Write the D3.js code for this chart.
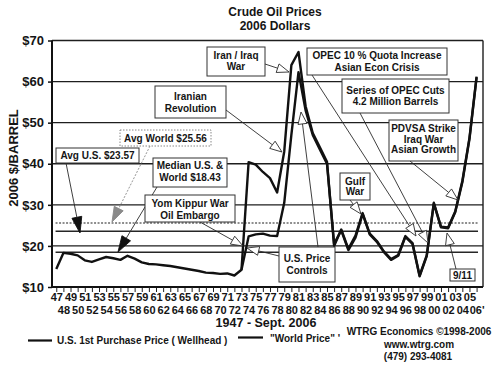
<!DOCTYPE html>
<html><head><meta charset="utf-8">
<script src="https://cdn.jsdelivr.net/npm/d3@7"></script>
<style>
body{margin:0;background:#fff}
svg{display:block}
text{font-family:"Liberation Sans",Arial,sans-serif;font-weight:bold;fill:#151515}
</style>
</head><body>
<svg id="c" width="501" height="366"></svg>
<script>
// ---------------- data ----------------
const usYears = d3.range(1947, 2007);
const usPrice = [14.4,18.3,18.1,17.7,16.5,16.1,16.7,17.3,17.0,16.6,
                 17.6,16.9,16.0,15.6,15.5,15.3,15.1,14.8,14.5,14.2,
                 13.9,13.5,13.4,13.2,13.3,12.8,14.2,22.3,22.8,23.0,
                 22.5,22.4,30.5,47.0,62.3,53.0,47.0,43.5,40.0,20.5,
                 23.8,19.0,22.0,27.8,22.8,21.0,18.5,16.6,17.6,22.2,
                 20.5,12.6,17.5,30.3,24.5,24.3,28.2,35.5,46.0,61.0];
const worldYears = d3.range(1973, 2007);
const worldPrice = [14.2,40.4,39.8,38.0,36.5,33.0,43.0,64.0,67.2,54.0,
                    47.5,44.0,40.5,20.0,24.0,19.3,22.5,28.0,23.0,21.2,
                    18.6,16.8,17.8,22.4,20.7,12.8,17.7,30.5,24.7,24.5,
                    28.4,35.8,46.3,61.2];
const avgWorld = 25.56, avgUS = 23.57, medianPrice = 18.43;
const yTickValues = [10,20,30,40,50,60,70];
const topYears = d3.range(1947, 2006, 2);
const topLabels = ["47","49","51","53","55","57","59","61","63","65","67","69","71","73","75","77","79","81","83","85","87","89","91","93","95","97","99","01","03","05"];
const bottomYears = d3.range(1948, 2007, 2);
const bottomLabels = ["48","50","52","54","56","58","60","62","64","66","68","70","72","74","76","78","80","82","84","86","88","90","92","94","96","98","00","02","04","06'"];

// ---------------- layout ----------------
const svg = d3.select("#c");
const L = 52, R = 483, T = 40.5, B = 287;
const x = d3.scaleLinear().domain([1946.4, 2006.9]).range([L, R]);
const y = d3.scaleLinear().domain([10, 70]).range([B, T]);

// titles
svg.append("text").attr("x",275).attr("y",11.5).attr("text-anchor","middle").attr("dominant-baseline","central")
  .style("font-size","12px").text("Crude Oil Prices");
svg.append("text").attr("x",275).attr("y",26).attr("text-anchor","middle").attr("dominant-baseline","central")
  .style("font-size","12px").text("2006 Dollars");
svg.append("text").attr("transform","translate(13,158) rotate(-90)").attr("text-anchor","middle")
  .attr("dominant-baseline","central").style("font-size","13px").text("2006 $/BARREL");

// gridlines
svg.append("g").selectAll("line").data(yTickValues.filter(v=>v>10)).join("line")
  .attr("x1",L).attr("x2",R).attr("y1",d=>y(d)).attr("y2",d=>y(d))
  .attr("stroke","#1e1e1e").attr("stroke-width",1.4);
// right frame
svg.append("line").attr("x1",R).attr("x2",R).attr("y1",y(70)).attr("y2",y(10))
  .attr("stroke","#1e1e1e").attr("stroke-width",1.4);

// reference lines
const refL = x(1946.9), refR = x(2006.2);
svg.append("line").attr("x1",refL).attr("x2",refR).attr("y1",y(avgWorld)).attr("y2",y(avgWorld))
  .attr("stroke","#6a6a6a").attr("stroke-width",1.5).attr("stroke-dasharray","2,1.5");
svg.append("line").attr("x1",refL).attr("x2",refR).attr("y1",y(avgUS)).attr("y2",y(avgUS))
  .attr("stroke","#262626").attr("stroke-width",1.5);
svg.append("line").attr("x1",refL).attr("x2",refR).attr("y1",y(medianPrice)).attr("y2",y(medianPrice))
  .attr("stroke","#262626").attr("stroke-width",1.5);

// data lines
const line = d3.line().x(d=>x(d[0])).y(d=>y(d[1])).curve(d3.curveLinear);
svg.append("path").attr("d", line(worldYears.map((yr,i)=>[yr, worldPrice[i]])))
  .attr("fill","none").attr("stroke","#111").attr("stroke-width",2.4).attr("stroke-linejoin","round");
svg.append("path").attr("d", line(usYears.map((yr,i)=>[yr, usPrice[i]])))
  .attr("fill","none").attr("stroke","#111").attr("stroke-width",2.4).attr("stroke-linejoin","round");

// axes
const yAxis = svg.append("g").attr("transform",`translate(${L},0)`)
  .call(d3.axisLeft(y).tickValues(yTickValues).tickFormat(d=>"$"+d).tickSize(4).tickPadding(4));
yAxis.select(".domain").attr("stroke","#111").attr("stroke-width",2).attr("d",`M0,${B}V${T}`);
yAxis.selectAll(".tick line").attr("stroke","#111").attr("stroke-width",1.5);
yAxis.selectAll("text").style("font-size","13px").style("font-family",'"Liberation Sans",Arial,sans-serif')
  .style("font-weight","bold").attr("fill","#151515");

const xTop = svg.append("g").attr("transform",`translate(0,${B})`)
  .call(d3.axisBottom(x).tickValues(topYears).tickFormat((d,i)=>topLabels[i]).tickSize(5).tickPadding(1));
const xBot = svg.append("g").attr("transform",`translate(0,${B})`)
  .call(d3.axisBottom(x).tickValues(bottomYears).tickFormat((d,i)=>bottomLabels[i]).tickSize(5).tickPadding(14));
[xTop,xBot].forEach(g=>{
  g.select(".domain").attr("stroke","#111").attr("stroke-width",2).attr("d",`M${L},0H${R}`);
  g.selectAll(".tick line").attr("stroke","#222").attr("stroke-width",1);
  g.selectAll("text").style("font-size","11px").style("font-family",'"Liberation Sans",Arial,sans-serif')
    .style("font-weight","bold").attr("fill","#151515");
});
xBot.selectAll(".tick line").attr("y2",5);

svg.append("text").attr("x",266).attr("y",323).attr("text-anchor","middle").attr("dominant-baseline","central")
  .style("font-size","12.5px").text("1947 - Sept. 2006");

// legend
svg.append("line").attr("x1",28).attr("x2",52).attr("y1",340.5).attr("y2",340.5).attr("stroke","#111").attr("stroke-width",2.2);
svg.append("text").attr("x",57).attr("y",340.5).attr("dominant-baseline","central").style("font-size","10px")
  .text("U.S. 1st Purchase Price ( Wellhead )");
svg.append("line").attr("x1",238).attr("x2",263).attr("y1",337.5).attr("y2",337.5).attr("stroke","#111").attr("stroke-width",2.2);
svg.append("text").attr("x",270).attr("y",338).attr("dominant-baseline","central").style("font-size","10px")
  .text("\"World Price\" '");

// credits
[["WTRG Economics  \u00A91998-2006",419,331.5],["www.wtrg.com",419,344],["(479) 293-4081",418,356.5]].forEach(c=>{
  svg.append("text").attr("x",c[1]).attr("y",c[2]).attr("text-anchor","middle").attr("dominant-baseline","central")
    .style("font-size","10px").text(c[0]);
});

// ---------------- annotations ----------------
function arrow(x1,y1,tx,ty,opt){
  const o = Object.assign({len:12,wid:9,fill:"#fff",stroke:"#2a2a2a",dash:null,lineStroke:"#2a2a2a"},opt||{});
  const dx=tx-x1, dy=ty-y1, d=Math.hypot(dx,dy), ux=dx/d, uy=dy/d;
  const bx=tx-ux*o.len, by=ty-uy*o.len, px=-uy*o.wid/2, py=ux*o.wid/2;
  const ln = svg.append("line").attr("x1",x1).attr("y1",y1).attr("x2",bx).attr("y2",by)
    .attr("stroke",o.lineStroke).attr("stroke-width",0.9);
  if(o.dash) ln.attr("stroke-dasharray",o.dash);
  svg.append("path").attr("d",`M${tx},${ty}L${bx+px},${by+py}L${bx-px},${by-py}Z`)
    .attr("fill",o.fill).attr("stroke",o.stroke).attr("stroke-width",0.9);
}
arrow(265,64,289,72);
arrow(226,110,282,152);
arrow(312,75,416,236);
arrow(360,113,428,243);
arrow(410,161,458,200);
arrow(350,200,361,214);
arrow(456,269,447,233);
arrow(279,256,247,248);
arrow(318,247,301,112);
arrow(200,222,243,246);
arrow(66,163,80,233,{len:16,wid:10,fill:"#111",stroke:"#111"});
arrow(150,146,112,222,{len:15,wid:10,fill:"#8a8a8a",stroke:"#8a8a8a",lineStroke:"#8a8a8a",dash:"2,1.5"});
arrow(157,187,118,252,{len:16,wid:10,fill:"#111",stroke:"#111"});

const boxes = [
  {x0:207,y0:47,x1:265,y1:76,lines:["Iran / Iraq","War"],ys:[55,66.5]},
  {x0:307,y0:48,x1:447,y1:75,lines:["OPEC 10 % Quota Increase","Asian Econ Crisis"],ys:[55.5,67]},
  {x0:342,y0:79,x1:449,y1:113,lines:["Series of OPEC Cuts","4.2 Million Barrels"],ys:[90,101.5]},
  {x0:389,y0:120,x1:458,y1:161,lines:["PDVSA Strike","Iraq War","Asian Growth"],ys:[128.5,139,149.5]},
  {x0:155,y0:86,x1:226,y1:118,lines:["Iranian","Revolution"],ys:[96.5,108]},
  {x0:120,y0:130,x1:211,y1:146,lines:["Avg World $25.56"],ys:[138.3],dotted:true},
  {x0:56,y0:148,x1:139,y1:163,lines:["Avg U.S. $23.57"],ys:[155.7]},
  {x0:153,y0:158,x1:227,y1:187,lines:["Median U.S. &","World  $18.43"],ys:[165,177.3]},
  {x0:145,y0:195,x1:235,y1:222,lines:["Yom Kippur War","Oil Embargo"],ys:[203.5,215]},
  {x0:340,y0:173,x1:370,y1:200,lines:["Gulf","War"],ys:[181.7,191.7]},
  {x0:279,y0:247,x1:335,y1:282,lines:["U.S. Price","Controls"],ys:[258.3,270]},
  {x0:450,y0:269,x1:475,y1:281,lines:["9/11"],ys:[275]}
];
boxes.forEach(b=>{
  const r = svg.append("rect").attr("x",b.x0).attr("y",b.y0).attr("width",b.x1-b.x0).attr("height",b.y1-b.y0)
    .attr("fill","#fff").attr("stroke",b.dotted?"#888":"#333").attr("stroke-width",1);
  if(b.dotted) r.attr("stroke-dasharray","1.5,1.5");
  b.lines.forEach((t,i)=>{
    svg.append("text").attr("x",(b.x0+b.x1)/2).attr("y",b.ys[i]).attr("text-anchor","middle")
      .attr("dominant-baseline","central").style("font-size","10px").text(t);
  });
});
</script>
</body></html>
